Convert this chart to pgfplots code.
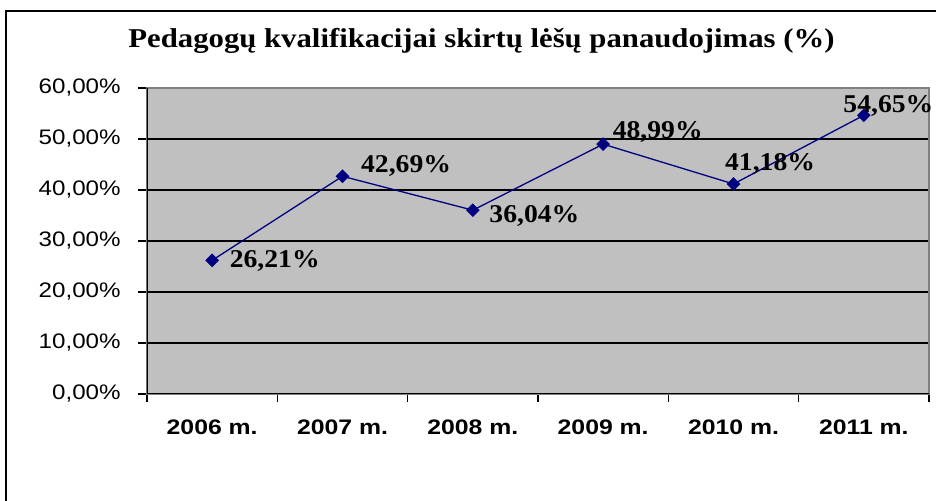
\documentclass[border=0pt]{standalone}
\usepackage{pgfplots}
\pgfplotsset{compat=1.18}
\usepackage{pgfplotstable}
\usepackage{fontspec}
\setmainfont{Liberation Serif}
\newfontfamily\ttlfont[FakeStretch=1.13]{Liberation Serif}
\newfontfamily\lblfont[FakeStretch=1.08]{Liberation Serif}
\newfontfamily\tickfont[FakeStretch=1.15]{Liberation Sans}
\newfontfamily\catfont[FakeStretch=1.18]{Liberation Sans}
\definecolor{plotgray}{HTML}{C0C0C0}
\definecolor{navyline}{HTML}{000080}
\definecolor{boxgray}{HTML}{808080}

% x = category index, lbl = data label, dx/dy = label offset (pt)
\pgfplotstableread{
x y lbl dx dy
0 26.21 26,21 8.5 -0.5
1 42.69 42,69 9 5
2 36.04 36,04 8 -3
3 48.99 48,99 4.5 6
4 41.18 41,18 -4.5 10
5 54.65 54,65 -10.5 4.5
}\datatab

\begin{document}
\begin{tikzpicture}
\begin{axis}[
    at={(0pt,0pt)}, anchor=south west,
    scale only axis,
    width=391pt, height=153pt,
    xmin=-0.5, xmax=5.5,
    ymin=0, ymax=60,
    xtick={0,...,5},
    xticklabels={2006 m.,2007 m.,2008 m.,2009 m.,2010 m.,2011 m.},
    minor xtick={-0.5,0.5,...,5.5},
    ytick={0,10,...,60},
    yticklabels={{0,00\%},{10,00\%},{20,00\%},{30,00\%},{40,00\%},{50,00\%},{60,00\%}},
    xtick pos=left, ytick pos=left,
    ymajorgrids,
    grid style={black, line width=0.7pt},
    axis background/.style={fill=plotgray},
    axis line style={boxgray, line width=0.8pt},
    tick align=outside,
    major tick length=4.5pt,
    minor tick length=4pt,
    tick style={black, line width=0.7pt},
    major x tick style={draw=none},
    xticklabel style={font=\catfont\bfseries\fontsize{10.5}{13}\selectfont, inner sep=0pt, anchor=north, yshift=-8pt},
    yticklabel style={font=\tickfont\fontsize{10.5}{12}\selectfont, inner sep=0pt, anchor=east, xshift=-8.5pt},
    point meta=explicit symbolic,
    visualization depends on={\thisrow{dx}\as\dx},
    visualization depends on={\thisrow{dy}\as\dy},
    nodes near coords={\pgfplotspointmeta\%},
    nodes near coords style={font=\lblfont\bfseries\fontsize{12.8}{15}\selectfont, text=black, anchor=west, inner sep=0pt, xshift=\dx pt, yshift=\dy pt},
]
\addplot[navyline, line width=0.65pt, mark=square*, mark size=2.1pt,
    mark options={fill=navyline, draw=navyline, rotate=45}]
    table[x=x, y=y, meta=lbl] {\datatab};
\draw[black, line width=0.8pt] (rel axis cs:0,1) -- (rel axis cs:0,0) -- (rel axis cs:1,0);
\end{axis}
\node[anchor=base, font=\ttlfont\bfseries\fontsize{13.6}{16}\selectfont, inner sep=0pt] at (167.25pt,173.4pt) {Pedagogų kvalifikacijai skirtų lėšų panaudojimas (\%)};
\draw[black, line width=1pt] (-70.5pt,-60pt) -- (-70.5pt,191.5pt) -- (400pt,191.5pt);
\pgfresetboundingbox
\useasboundingbox (-73.5pt,-53.5pt) rectangle (394.5pt,197pt);
\end{tikzpicture}
\end{document}
